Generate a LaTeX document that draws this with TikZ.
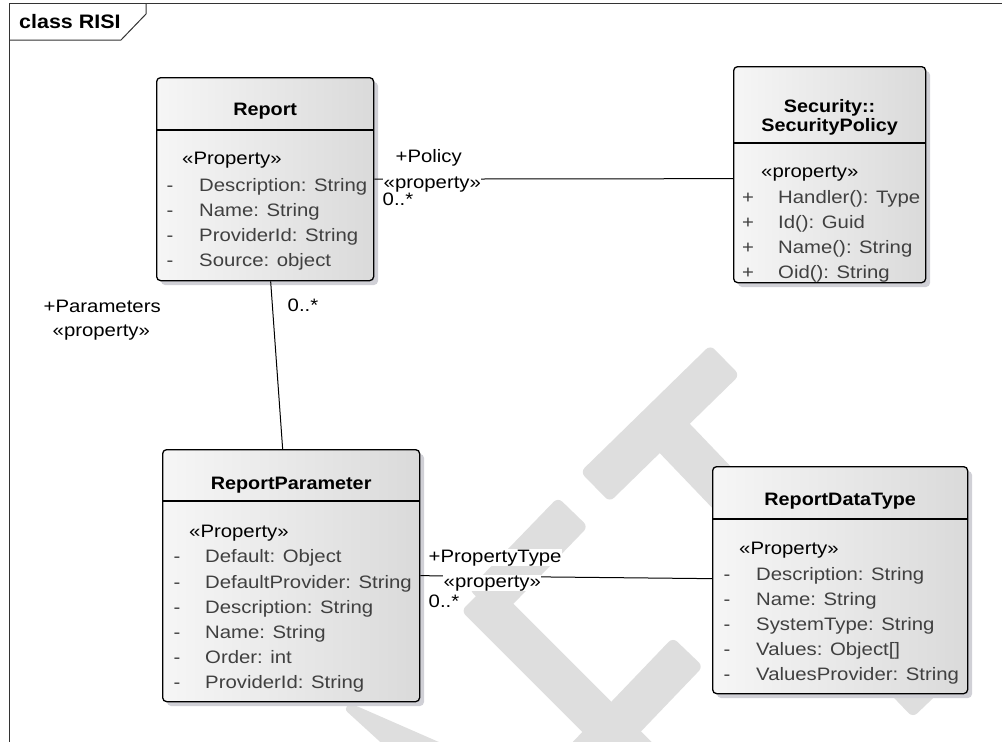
\documentclass[tikz,border=0pt]{standalone}
\usepackage{fontspec}
\setmainfont{Liberation Sans}[FakeStretch=1.13]
\newfontfamily\titlefont{Liberation Sans}[FakeStretch=1.1]
\usetikzlibrary{calc}

\definecolor{wmgray}{RGB}{222,222,222}
\definecolor{boxlight}{RGB}{246,246,246}
\definecolor{boxdark}{RGB}{218,218,218}
\definecolor{shadowc}{RGB}{208,208,214}
\definecolor{attrc}{RGB}{64,64,64}

\tikzset{
  wmark/.style={fill=wmgray, rounded corners=6pt},
  frameline/.style={line width=1pt, draw=black!80},
  frametitle/.style={font=\titlefont\bfseries\fontsize{19.5}{22}\selectfont, anchor=base west, inner sep=0},
  classbox/.style={draw=black, line width=1.3pt, rounded corners=4pt,
    left color=boxlight, right color=boxdark, anchor=north west, inner sep=0},
  boxshadow/.style={fill=shadowc, rounded corners=4pt},
  sepline/.style={line width=1.2pt},
  ctitle/.style={font=\titlefont\bfseries\fontsize{18}{21}\selectfont, anchor=base, inner sep=0},
  stereo/.style={anchor=base west, inner sep=0},
  attr/.style={anchor=base west, inner sep=0, text=attrc},
  vis/.style={anchor=base, inner sep=0, text=attrc},
  role/.style={anchor=base west, inner sep=0.5pt},
  rolebg/.style={role, fill=white},
  assoc/.style={line width=1pt},
}

% a straight watermark band of width 42 between two points
\newcommand\wmstroke[2]{%
  \fill[wmark] ($#1!21pt!90:#2$) -- ($#1!21pt!-90:#2$)
    -- ($#2!21pt!90:#1$) -- ($#2!21pt!-90:#1$) -- cycle;}

% class box with its drop shadow: name, left, top, width, height
\newcommand\umlbox[5]{%
  \fill[boxshadow] (#2+5,#3+5) rectangle ++(#4,#5);
  \node[classbox, minimum width=#4pt, minimum height=#5pt] (#1) at (#2,#3) {};}

% attribute row: name, sign x, text x, baseline, sign, text
\newcommand\umlrow[6]{%
  \node[vis] (#1-v) at (#2,#4) {#5};
  \node[attr] (#1) at (#3,#4) {#6};}

\begin{document}
\begin{tikzpicture}[x=1pt, y=-1pt, font=\fontsize{18}{21}\selectfont]
\useasboundingbox (0,0) rectangle (1002,742);

% watermark
\begin{scope}
  \clip (10,4) rectangle (1002,742);
  \wmstroke{(725,360)}{(595,487)}
  \wmstroke{(660,423)}{(928,703)}
  \wmstroke{(573,512)}{(484,604)}
  \wmstroke{(476,596)}{(650,770)}
  \wmstroke{(688,652)}{(575,770)}
  \fill[wmark] (343,708) -- (352,704) -- (480,760) -- (400,760) -- cycle;
\end{scope}

% diagram frame
\draw[frameline] (9.5,742) -- (9.5,3.5) -- (1002,3.5);
\draw[frameline] (9.5,40) -- (121,40) -- (146,14) -- (146,3.5);
\node[frametitle] (ftitle) at (19,28.5) {class RISI};

% Report
\umlbox{report}{156}{77}{217}{203}
\draw[sepline] (report.west |- 0,130) -- (report.east |- 0,130);
\node[ctitle] (report-t) at (report.north |- 0,115) {Report};
\node[stereo] (report-s) at (182,164) {«Property»};
\umlrow{report-a1}{170}{199}{191}{-}{Description: String}
\umlrow{report-a2}{170}{199}{216}{-}{Name: String}
\umlrow{report-a3}{170}{199}{241}{-}{ProviderId: String}
\umlrow{report-a4}{170}{199}{266}{-}{Source: object}

% Security::SecurityPolicy
\umlbox{secpol}{733}{66}{192}{216}
\draw[sepline] (secpol.west |- 0,143) -- (secpol.east |- 0,143);
\node[ctitle] (secpol-t1) at (secpol.north |- 0,112) {Security::};
\node[ctitle] (secpol-t2) at (secpol.north |- 0,131) {SecurityPolicy};
\node[stereo] (secpol-s) at (761,177) {«property»};
\umlrow{secpol-a1}{748}{778}{203}{+}{Handler(): Type}
\umlrow{secpol-a2}{748}{778}{228}{+}{Id(): Guid}
\umlrow{secpol-a3}{748}{778}{253}{+}{Name(): String}
\umlrow{secpol-a4}{748}{778}{278}{+}{Oid(): String}

% ReportParameter
\umlbox{rparam}{162}{449}{257}{252}
\draw[sepline] (rparam.west |- 0,501) -- (rparam.east |- 0,501);
\node[ctitle] (rparam-t) at (rparam.north |- 0,489) {ReportParameter};
\node[stereo] (rparam-s) at (189,537) {«Property»};
\umlrow{rparam-a1}{177}{205}{562}{-}{Default: Object}
\umlrow{rparam-a2}{177}{205}{588}{-}{DefaultProvider: String}
\umlrow{rparam-a3}{177}{205}{613}{-}{Description: String}
\umlrow{rparam-a4}{177}{205}{638}{-}{Name: String}
\umlrow{rparam-a5}{177}{205}{663}{-}{Order: int}
\umlrow{rparam-a6}{177}{205}{688}{-}{ProviderId: String}

% ReportDataType
\umlbox{rdtype}{712}{466}{255}{227}
\draw[sepline] (rdtype.west |- 0,519) -- (rdtype.east |- 0,519);
\node[ctitle] (rdtype-t) at (rdtype.north |- 0,505) {ReportDataType};
\node[stereo] (rdtype-s) at (739,554) {«Property»};
\umlrow{rdtype-a1}{727}{756}{580}{-}{Description: String}
\umlrow{rdtype-a2}{727}{756}{605}{-}{Name: String}
\umlrow{rdtype-a3}{727}{756}{630}{-}{SystemType: String}
\umlrow{rdtype-a4}{727}{756}{655}{-}{Values: Object[]}
\umlrow{rdtype-a5}{727}{756}{680}{-}{ValuesProvider: String}

% associations
\draw[assoc] (report.east) -- ([yshift=-4pt]secpol.west);
\draw[assoc] ([xshift=5.5pt]report.south) -- ([xshift=-8.5pt]rparam.north);
\draw[assoc] (rparam.east) -- ([yshift=1.5pt]rdtype.west);

% association end labels
\node[role] (pol-role) at (395,162.5) {+Policy};
\node[rolebg] (pol-st) at (383,188.5) {«property»};
\node[role] (pol-mult) at (382,205) {0..*};

\node[role] (par-role) at (43,312) {+Parameters};
\node[role] (par-st) at (52,336) {«property»};
\node[role] (par-mult) at (287,311) {0..*};

\node[rolebg] (pt-role) at (428,562) {+PropertyType};
\node[rolebg] (pt-st) at (443,587) {«property»};
\node[role] (pt-mult) at (428,607) {0..*};
\end{tikzpicture}
\end{document}
